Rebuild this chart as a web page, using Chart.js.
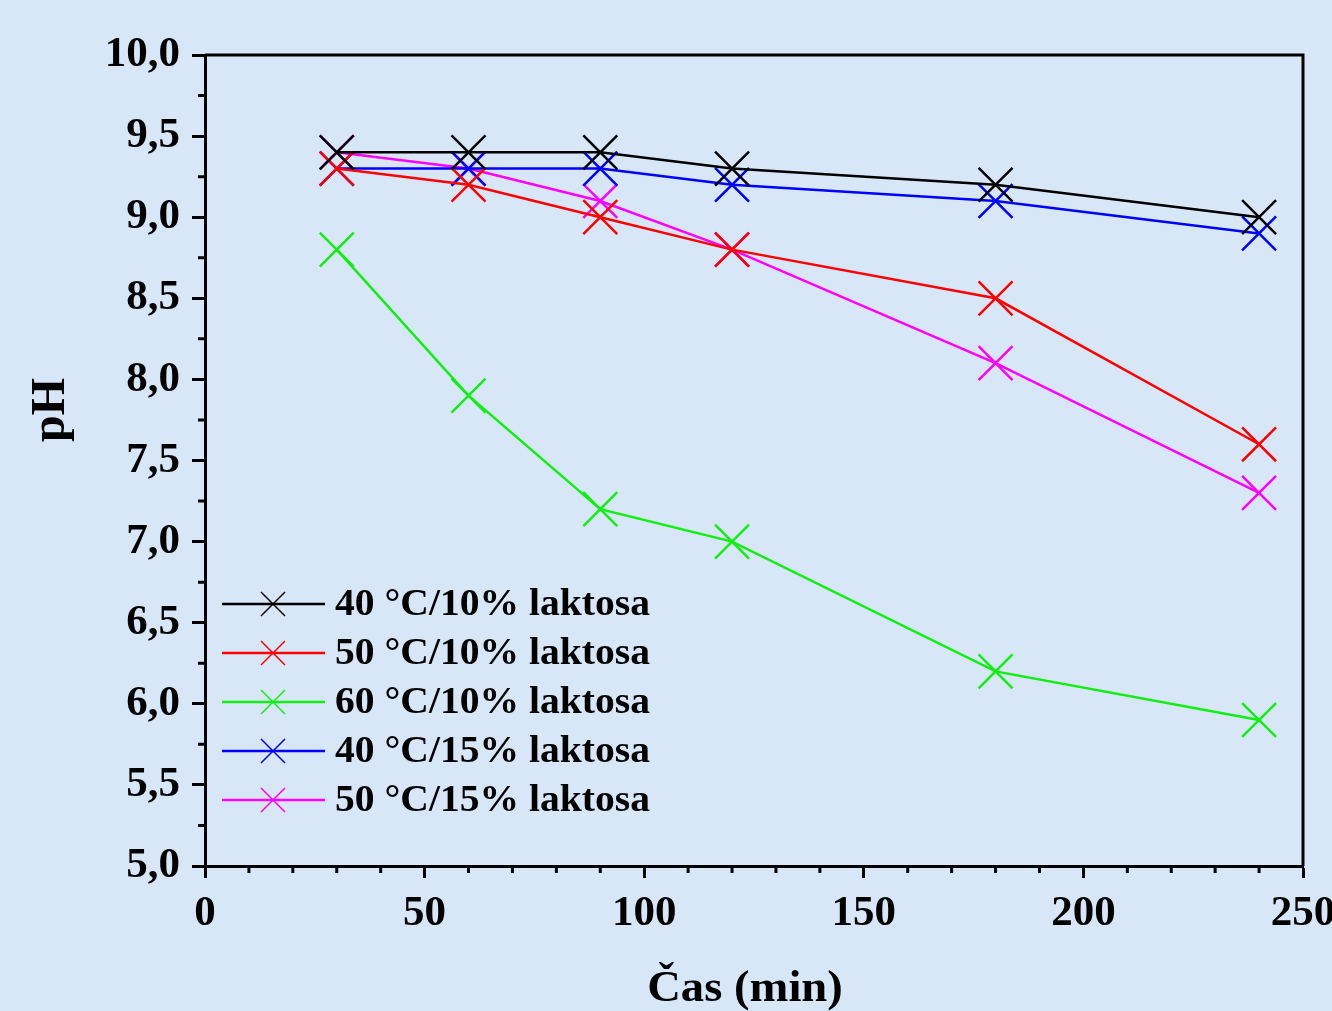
<!DOCTYPE html>
<html>
<head>
<meta charset="utf-8">
<script src="https://cdn.jsdelivr.net/npm/chart.js@4.4.1/dist/chart.umd.min.js"></script>
<style>
  html, body { margin: 0; padding: 0; background: #d7e7f7; }
  #graf { display: block; }
</style>
</head>
<body>
<canvas id="graf" width="1332" height="1011"></canvas>
<script>
// datos
const cas = [30, 60, 90, 120, 180, 240];
const ph40_10 = [9.4, 9.4, 9.4, 9.3, 9.2, 9.0];
const ph50_10 = [9.3, 9.2, 9.0, 8.8, 8.5, 7.6];
const ph60_10 = [8.8, 7.9, 7.2, 7.0, 6.2, 5.9];
const ph40_15 = [9.3, 9.3, 9.3, 9.2, 9.1, 8.9];
const ph50_15 = [9.4, 9.3, 9.1, 8.8, 8.1, 7.3];
const nazvy = ["40 °C/10% laktosa", "50 °C/10% laktosa", "60 °C/10% laktosa", "40 °C/15% laktosa", "50 °C/15% laktosa"];
const barvy = ["#000000", "#ff0000", "#11ee11", "#0000ff", "#ff00ff"];
const xTicks = [0, 50, 100, 150, 200, 250];
const yTicks = [5.0, 5.5, 6.0, 6.5, 7.0, 7.5, 8.0, 8.5, 9.0, 9.5, 10.0];

const serie = [ph40_10, ph50_10, ph60_10, ph40_15, ph50_15];
const FONT = '"Liberation Serif", "Times New Roman", serif';

function body(vals) {
    return cas.map((t, i) => ({ x: t, y: vals[i] }));
}

const datasets = serie.map((vals, i) => ({
    label: nazvy[i],
    data: body(vals),
    borderColor: barvy[i],
    backgroundColor: barvy[i],
    borderWidth: 2.5,
    showLine: true,
    tension: 0,
    pointStyle: "crossRot",
    pointRadius: 24,
    pointHoverRadius: 24,
    pointBorderWidth: 2.5,
    pointBorderColor: barvy[i]
}));

// texto estirado horizontalmente (como en la figura original)
function textoAncho(c, txt, x, y, sx) {
    c.save();
    c.translate(x, y);
    c.scale(sx, 1);
    c.fillText(txt, 0, 0);
    c.restore();
}

// fondo, marco, ticks menores, leyenda, titulos
const extras = {
    id: "extras",
    beforeDraw(chart) {
        const c = chart.ctx;
        c.save();
        c.fillStyle = "#d7e7f7";
        c.fillRect(0, 0, chart.width, chart.height);
        c.restore();
    },
    afterDraw(chart) {
        const c = chart.ctx;
        const a = chart.chartArea;
        const sx = chart.scales.x, sy = chart.scales.y;
        c.save();
        c.strokeStyle = "#000";
        c.lineWidth = 3;
        c.beginPath();
        c.moveTo(a.left, a.top);
        c.lineTo(a.right, a.top);
        c.lineTo(a.right, a.bottom);
        c.stroke();

        // ticks menores
        c.beginPath();
        for (let v = 10; v < 250; v += 10) {
            if (v % 50 === 0) continue;
            const px = sx.getPixelForValue(v);
            c.moveTo(px, a.bottom);
            c.lineTo(px, a.bottom + 7);
        }
        for (let v = 5.25; v < 10; v += 0.5) {
            const py = sy.getPixelForValue(v);
            c.moveTo(a.left, py);
            c.lineTo(a.left - 7, py);
        }
        c.stroke();

        // leyenda
        c.font = "bold 37px " + FONT;
        c.textBaseline = "middle";
        c.textAlign = "left";
        chart.data.datasets.forEach((ds, i) => {
            const y = 604 + i * 49;
            c.strokeStyle = ds.borderColor;
            c.lineWidth = 2.5;
            c.beginPath();
            c.moveTo(222, y);
            c.lineTo(325, y);
            c.stroke();
            c.lineWidth = 1.5;
            c.beginPath();
            c.moveTo(261, y - 12);
            c.lineTo(285, y + 12);
            c.moveTo(285, y - 12);
            c.lineTo(261, y + 12);
            c.stroke();
            c.fillStyle = "#000";
            textoAncho(c, ds.label, 335, y + 1, 1.07);
        });

        // titulos
        c.textAlign = "center";
        c.font = "bold 44px " + FONT;
        textoAncho(c, "Čas (min)", 745, 990, 1.06);
        c.font = "bold 48px " + FONT;
        c.translate(52, 410);
        c.rotate(-Math.PI / 2);
        c.fillText("pH", 0, 0);
        c.restore();
    }
};

const chart = new Chart(document.getElementById("graf").getContext("2d"), {
    type: "scatter",
    data: { datasets: datasets },
    options: {
        responsive: false,
        animation: false,
        layout: { padding: { top: 55, right: 29, left: 0, bottom: 0 } },
        plugins: {
            legend: { display: false },
            tooltip: { enabled: false }
        },
        scales: {
            x: {
                type: "linear",
                min: 0,
                max: 250,
                afterBuildTicks(scale) { scale.ticks = xTicks.map(v => ({ value: v })); },
                afterFit(scale) {
                    scale.height = 145;
                    scale.paddingLeft = 0;
                    scale.paddingRight = 0;
                },
                ticks: {
                    padding: 10,
                    color: "#000",
                    font: { family: FONT, size: 43, weight: "bold" },
                    callback: v => String(v)
                },
                grid: {
                    drawOnChartArea: false,
                    drawTicks: true,
                    tickLength: 12,
                    tickWidth: 3,
                    tickColor: "#000"
                },
                border: { display: true, color: "#000", width: 3 }
            },
            y: {
                type: "linear",
                min: 5,
                max: 10,
                afterBuildTicks(scale) { scale.ticks = yTicks.map(v => ({ value: v })); },
                afterFit(scale) {
                    scale.width = 205;
                    scale.paddingTop = 0;
                    scale.paddingBottom = 0;
                },
                ticks: {
                    padding: 12,
                    color: "#000",
                    font: { family: FONT, size: 43, weight: "bold" },
                    callback: v => Number(v).toFixed(1).replace(".", ",")
                },
                grid: {
                    drawOnChartArea: false,
                    drawTicks: true,
                    tickLength: 13,
                    tickWidth: 3,
                    tickColor: "#000"
                },
                border: { display: true, color: "#000", width: 3 }
            }
        }
    },
    plugins: [extras]
});
</script>
</body>
</html>
